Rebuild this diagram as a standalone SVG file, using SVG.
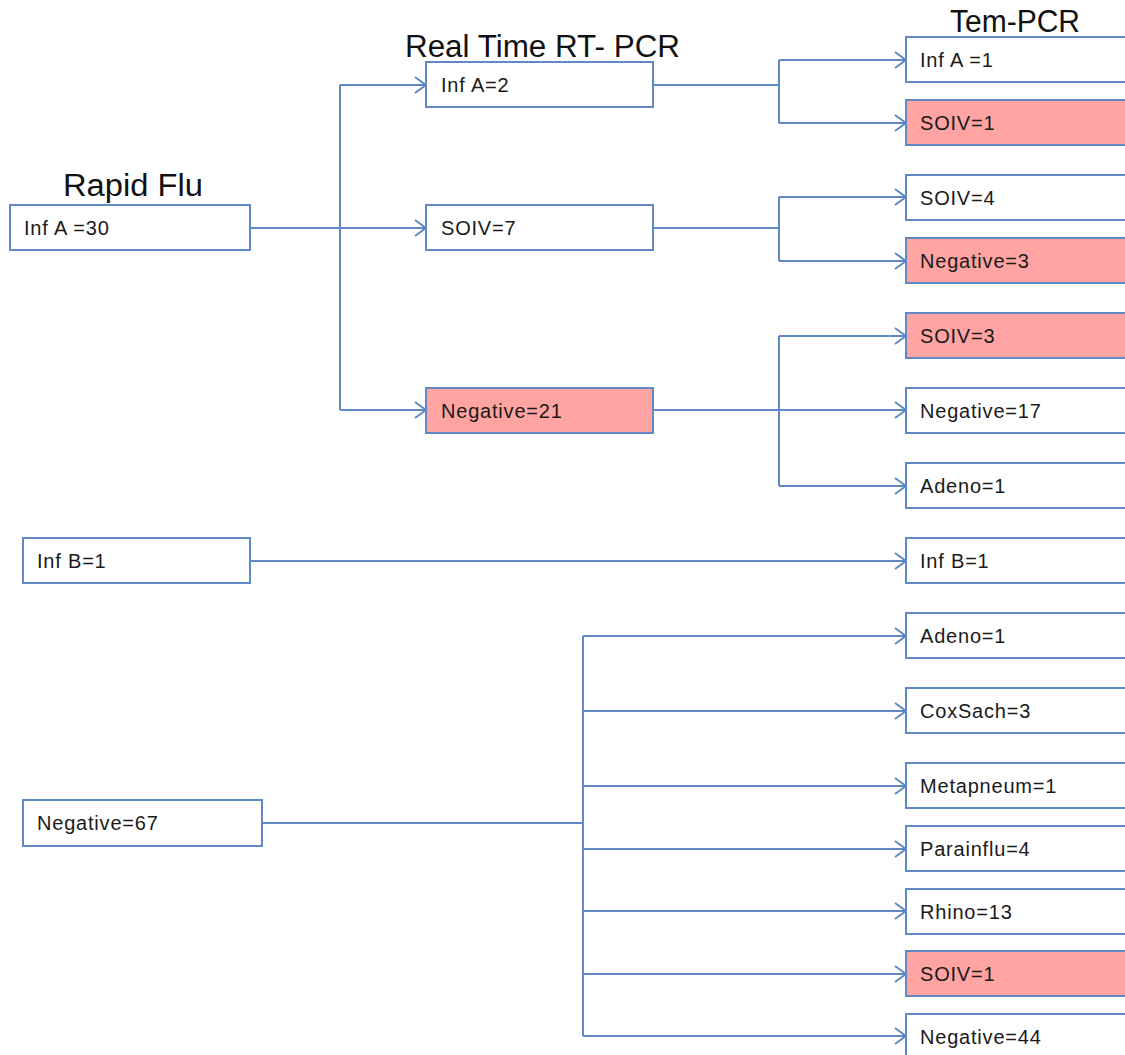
<svg xmlns="http://www.w3.org/2000/svg" width="1125" height="1055" viewBox="0 0 1125 1055">
<style>
.box{fill:#ffffff;stroke:#5f88c6;stroke-width:2}
.pink{fill:#ffa3a3;stroke:#5f88c6;stroke-width:2}
.lbl{font-family:"Liberation Sans",Arial,sans-serif;font-size:20px;letter-spacing:0.8px;fill:#1a1a1a}
.ttl{font-family:"Liberation Sans",Arial,sans-serif;font-size:31px;fill:#111111}
.ln{fill:none;stroke:#5f88c6;stroke-width:2}
</style>
<defs>
<marker id="arr" markerWidth="13" markerHeight="18" refX="12" refY="9" orient="auto" markerUnits="userSpaceOnUse">
<polyline points="1,1 12,9 1,17" fill="none" stroke="#5f88c6" stroke-width="2"/>
</marker>
</defs>
<rect width="1125" height="1055" fill="#ffffff"/>
<text class="ttl" x="63" y="196" textLength="140" lengthAdjust="spacingAndGlyphs">Rapid Flu</text>
<text class="ttl" x="405" y="57" textLength="275" lengthAdjust="spacingAndGlyphs">Real Time RT- PCR</text>
<text class="ttl" x="950" y="32" textLength="130" lengthAdjust="spacingAndGlyphs">Tem-PCR</text>
<g id="connectors">
<path class="ln" d="M250,228 H426" marker-end="url(#arr)"/>
<path class="ln" d="M340,85 V410"/>
<path class="ln" d="M340,85 H426" marker-end="url(#arr)"/>
<path class="ln" d="M340,410 H426" marker-end="url(#arr)"/>
<path class="ln" d="M653,85 H779 M779,60 V123"/>
<path class="ln" d="M779,60 H906" marker-end="url(#arr)"/>
<path class="ln" d="M779,123 H906" marker-end="url(#arr)"/>
<path class="ln" d="M653,228 H779 M779,197 V261"/>
<path class="ln" d="M779,197 H906" marker-end="url(#arr)"/>
<path class="ln" d="M779,261 H906" marker-end="url(#arr)"/>
<path class="ln" d="M653,410 H906" marker-end="url(#arr)"/>
<path class="ln" d="M779,336 V486"/>
<path class="ln" d="M779,336 H906" marker-end="url(#arr)"/>
<path class="ln" d="M779,486 H906" marker-end="url(#arr)"/>
<path class="ln" d="M250,561 H906" marker-end="url(#arr)"/>
<path class="ln" d="M262,823 H583 M583,636 V1036"/>
<path class="ln" d="M583,636 H906" marker-end="url(#arr)"/>
<path class="ln" d="M583,711 H906" marker-end="url(#arr)"/>
<path class="ln" d="M583,786 H906" marker-end="url(#arr)"/>
<path class="ln" d="M583,849 H906" marker-end="url(#arr)"/>
<path class="ln" d="M583,911 H906" marker-end="url(#arr)"/>
<path class="ln" d="M583,974 H906" marker-end="url(#arr)"/>
<path class="ln" d="M583,1036 H906" marker-end="url(#arr)"/>
</g>
<g id="n-infa30"><rect class="box" x="10" y="205" width="240" height="45"/><text class="lbl" x="24" y="235">Inf A =30</text></g>
<g id="n-infb1"><rect class="box" x="23" y="538" width="227" height="45"/><text class="lbl" x="37" y="568">Inf B=1</text></g>
<g id="n-neg67"><rect class="box" x="23" y="800" width="239" height="46"/><text class="lbl" x="37" y="830">Negative=67</text></g>
<g id="n-infa2"><rect class="box" x="426" y="62" width="227" height="45"/><text class="lbl" x="441" y="92">Inf A=2</text></g>
<g id="n-soiv7"><rect class="box" x="426" y="205" width="227" height="45"/><text class="lbl" x="441" y="235">SOIV=7</text></g>
<g id="n-neg21"><rect class="pink" x="426" y="388" width="227" height="45"/><text class="lbl" x="441" y="418">Negative=21</text></g>
<g id="t-infa1"><rect class="box" x="906" y="37" width="240" height="45"/><text class="lbl" x="920" y="67">Inf A =1</text></g>
<g id="t-soiv1a"><rect class="pink" x="906" y="100" width="240" height="45"/><text class="lbl" x="920" y="130">SOIV=1</text></g>
<g id="t-soiv4"><rect class="box" x="906" y="175" width="240" height="45"/><text class="lbl" x="920" y="205">SOIV=4</text></g>
<g id="t-neg3"><rect class="pink" x="906" y="238" width="240" height="45"/><text class="lbl" x="920" y="268">Negative=3</text></g>
<g id="t-soiv3"><rect class="pink" x="906" y="313" width="240" height="45"/><text class="lbl" x="920" y="343">SOIV=3</text></g>
<g id="t-neg17"><rect class="box" x="906" y="388" width="240" height="45"/><text class="lbl" x="920" y="418">Negative=17</text></g>
<g id="t-adeno1a"><rect class="box" x="906" y="463" width="240" height="45"/><text class="lbl" x="920" y="493">Adeno=1</text></g>
<g id="t-infb1"><rect class="box" x="906" y="538" width="240" height="45"/><text class="lbl" x="920" y="568">Inf B=1</text></g>
<g id="t-adeno1b"><rect class="box" x="906" y="613" width="240" height="45"/><text class="lbl" x="920" y="643">Adeno=1</text></g>
<g id="t-coxsach3"><rect class="box" x="906" y="688" width="240" height="45"/><text class="lbl" x="920" y="718">CoxSach=3</text></g>
<g id="t-metapneum1"><rect class="box" x="906" y="763" width="240" height="45"/><text class="lbl" x="920" y="793">Metapneum=1</text></g>
<g id="t-parainflu4"><rect class="box" x="906" y="826" width="240" height="45"/><text class="lbl" x="920" y="856">Parainflu=4</text></g>
<g id="t-rhino13"><rect class="box" x="906" y="889" width="240" height="45"/><text class="lbl" x="920" y="919">Rhino=13</text></g>
<g id="t-soiv1b"><rect class="pink" x="906" y="951" width="240" height="45"/><text class="lbl" x="920" y="981">SOIV=1</text></g>
<g id="t-neg44"><rect class="box" x="906" y="1014" width="240" height="45"/><text class="lbl" x="920" y="1044">Negative=44</text></g>
</svg>
